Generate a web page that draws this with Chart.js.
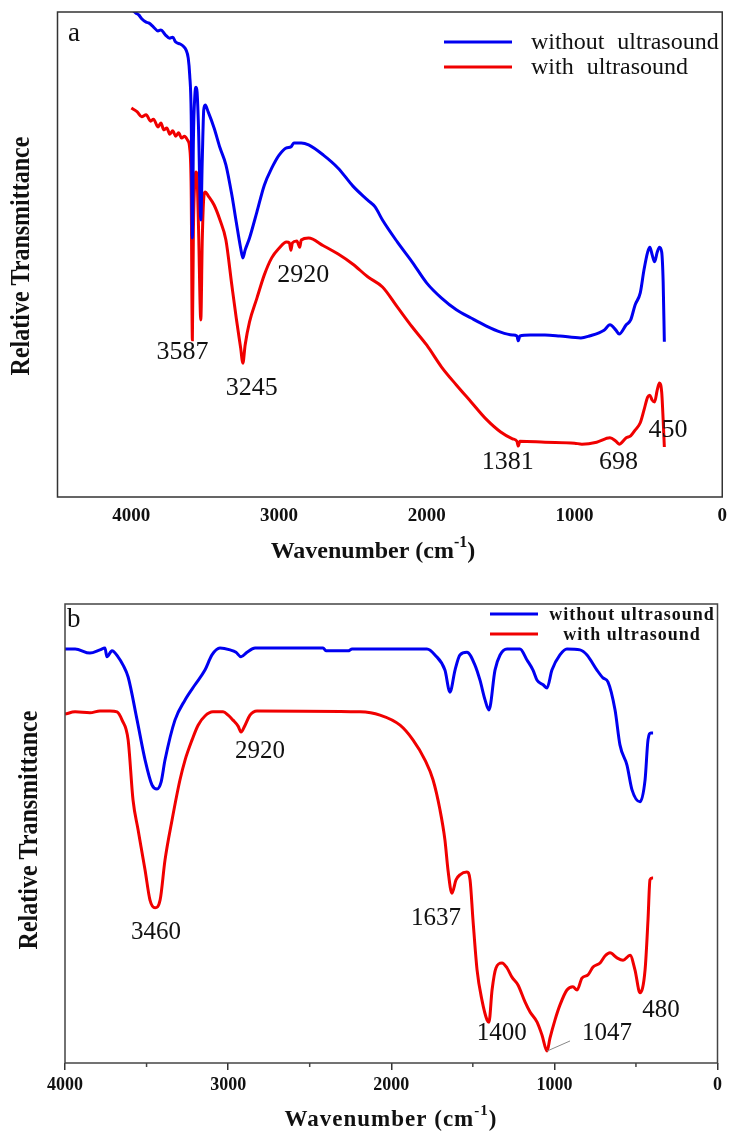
<!DOCTYPE html>
<html>
<head>
<meta charset="utf-8">
<script src="https://cdn.jsdelivr.net/npm/chart.js@4/dist/chart.umd.min.js"></script>
<style>
  html, body { margin: 0; padding: 0; background: #fff; }
  #wrap { position: relative; width: 735px; height: 1133px; }
  #chartA { position: absolute; left: 0; top: 0; }
  #chartB { position: absolute; left: 0; top: 580px; }
</style>
</head>
<body>
<div id="wrap">
  <canvas id="chartA" width="735" height="580"></canvas>
  <canvas id="chartB" width="735" height="553"></canvas>
</div>
<script>
// FTIR spectra, panel a (top) and panel b (bottom)

// --- panel a data (wavenumber, relative transmittance 0..100)
const aWithoutX = [4000,3970,3950,3930,3900,3880,3850,3820,3800,3770,3740,3720,3700,3670,3650,3630,3615,3605,3595,3587,
  3580,3570,3562,3555,3545,3530,3520,3510,3500,3480,
  3440,3400,3360,3320,3290,3260,3245,3230,3200,3150,
  3100,3050,3000,2950,2920,2900,2850,2800,2700,2600,
  2500,2400,2350,2300,2200,2100,2000,1900,1800,1700,
  1600,1500,1420,1390,1381,1370,1300,1200,1100,957,
  900,800,760,720,698,650,620,590,555,530,
  505,490,475,458,440,425,410,400,392];
const aWithoutY = [100.6,99.8,99.4,98.6,97.9,97.7,96.9,96.1,96.3,95.3,94.6,94.8,93.8,93.4,93.0,92.2,90.5,87.0,78.8,53.4,
  73.6,82.9,84.5,83.5,75.7,57.1,69.5,79.8,80.8,79.4,
  76.1,72.0,68.5,62.3,56.7,51.3,49.3,50.9,53.4,58.8,
  64.3,67.8,70.5,72.0,72.2,73.0,73.0,72.6,70.5,67.8,
  64.1,61.2,59.8,57.1,52.6,48.5,44.1,41.0,38.6,36.9,
  35.3,34.0,33.4,33.2,32.2,33.2,33.4,33.4,33.2,32.8,
  33.2,34.4,35.5,34.4,33.6,35.5,36.5,39.6,42.1,46.8,
  50.5,51.5,50.0,48.5,50.5,51.5,50.5,44.3,32.0];

const aWithX = [4000,3960,3930,3900,3870,3850,3820,3800,3780,3760,3740,3720,3700,3680,3660,3640,3620,3605,3595,3587,
  3580,3570,3562,3555,3545,3530,3520,3510,3500,3480,
  3440,3400,3360,3320,3290,3260,3245,3230,3200,3150,
  3100,3050,3000,2950,2930,2920,2910,2880,2860,2850,
  2800,2700,2600,2500,2400,2300,2200,2100,2000,1900,
  1800,1700,1600,1500,1420,1390,1381,1370,1200,1000,
  950,850,760,720,698,650,620,590,555,530,
  505,490,475,458,440,425,410,400,392];
const aWithY = [80.2,79.4,78.4,78.8,77.5,77.9,76.3,77.1,75.7,76.1,74.8,75.5,74.4,75.1,74.0,74.4,73.6,71.9,63.3,32.4,
  55.1,65.4,67.0,65.8,55.1,36.5,53.0,61.6,62.9,62.1,
  60.2,57.1,53.0,43.7,36.9,30.7,27.6,31.3,36.1,41.0,
  45.8,49.3,51.3,52.6,52.4,50.9,52.4,52.8,51.5,53.0,
  53.4,51.8,50.1,48.0,45.4,43.3,39.2,35.1,31.3,26.8,
  23.1,19.6,16.1,13.4,12.0,11.5,10.5,11.5,11.3,11.1,
  10.9,11.3,12.2,11.5,10.9,12.2,12.6,13.8,15.3,17.9,
  20.6,21.0,20.0,19.6,22.1,23.5,21.6,15.9,10.3];

// --- panel b data
const bWithoutX = [4000,3938,3847,3786,3755,3743,3712,3675,3644,3613,
  3558,3509,3467,3436,3411,3387,3326,3264,3203,3142,
  3099,3050,2988,2952,2921,2884,2835,2418,2400,2265,
  2240,1781,1732,1671,1640,1609,1579,1536,1487,1456,
  1425,1401,1364,1333,1290,1211,1168,1131,1106,1069,
  1045,1015,966,923,843,800,739,702,671,628,
  598,555,524,475,444,426,408,395];
const bWithoutY = [90.2,90.2,89.3,90.0,90.4,88.5,89.8,88.5,86.7,84.1,
  74.7,66.0,60.6,59.7,61.2,66.0,74.7,79.1,82.4,85.6,
  88.9,90.4,90.0,89.5,88.5,89.5,90.4,90.4,89.8,89.8,
  90.2,90.2,88.9,85.6,80.8,85.6,88.9,89.5,86.7,83.4,
  79.1,76.9,85.6,88.9,90.2,90.2,87.8,85.6,83.4,82.4,
  81.7,85.6,88.9,90.2,90.0,88.9,85.6,83.9,83.0,76.9,
  69.3,64.9,59.5,56.9,61.7,70.4,71.9,71.9];

const bWithX = [4000,3938,3847,3786,3724,3681,3650,3613,3583,3552,
  3509,3479,3448,3417,3387,3344,3295,3264,3221,3184,
  3142,3093,3031,3000,2970,2939,2921,2896,2866,2823,
  2192,2069,1946,1867,1793,1744,1701,1671,1652,1628,
  1603,1579,1536,1517,1499,1474,1444,1413,1401,1382,
  1358,1321,1290,1260,1223,1180,1149,1106,1076,1045,
  1027,996,966,923,886,861,831,794,763,720,
  690,659,616,579,536,506,475,444,426,414,
  401,395];
const bWithY = [76.0,76.5,76.3,76.7,76.7,76.5,74.7,70.4,57.3,50.8,
  42.0,35.5,33.8,35.5,44.2,52.9,61.7,66.0,70.4,73.6,
  75.6,76.5,76.5,75.8,74.7,73.4,72.1,73.6,75.8,76.7,
  76.5,75.8,73.6,70.4,66.0,61.7,55.1,48.6,42.0,37.0,
  39.9,41.0,41.6,39.9,31.2,20.3,13.7,9.4,8.9,15.9,
  20.7,21.8,20.7,18.7,17.0,13.3,11.1,8.9,6.1,2.6,
  5.4,9.4,12.6,15.9,16.6,15.9,18.5,19.2,20.9,21.8,
  23.3,24.0,22.9,22.4,23.5,20.3,15.3,20.3,31.2,39.9,
  40.3,40.3];

// axis ticks and legend names
const xTicks = [4000, 3000, 2000, 1000, 0];
const minorTicksB = [3500, 2500, 1500, 500];
const seriesNames = ['without ultrasound', 'with ultrasound'];

// peak labels (text + where they sit, in data units)
const peakTextA = ['3587', '3245', '2920', '1381', '698', '450'];
const peakXA = [3654, 3185, 2837, 1452, 703, 368];
const peakYA = [29.9, 22.5, 45.8, 7.2, 7.2, 13.8];
const peakTextB = ['3460', '2920', '1637', '1400', '1047', '480'];
const peakXB = [3442, 2804, 1726, 1322, 677, 346];
const peakYB = [28.5, 67.8, 31.6, 6.5, 6.5, 11.5];

const serif = '"Liberation Serif", "Times New Roman", serif';
const BLUE = '#0000f0';
const RED = '#f00000';

function toPoints(xs, ys) {
  return xs.map((x, i) => ({x: x, y: ys[i]}));
}

function drawXTitle(ctx, cx, cy, font, supFont, spacing) {
  ctx.letterSpacing = spacing;
  ctx.font = font;
  let t1 = 'Wavenumber (cm', t3 = ')';
  let w1 = ctx.measureText(t1).width, w3 = ctx.measureText(t3).width;
  ctx.font = supFont;
  let w2 = ctx.measureText('-1').width;
  let x = cx - (w1 + w2 + w3) / 2;
  ctx.textAlign = 'left';
  ctx.textBaseline = 'middle';
  ctx.font = font;
  ctx.fillText(t1, x, cy);
  ctx.font = supFont;
  ctx.fillText('-1', x + w1, cy - 9);
  ctx.font = font;
  ctx.fillText(t3, x + w1 + w2, cy);
  ctx.letterSpacing = '0px';
}

// frame, labels, legend, titles
const decoPlugin = {
  id: 'deco',
  afterDraw(chart, args, o) {
    const ctx = chart.ctx, ca = chart.chartArea;
    const xs = chart.scales.x, ys = chart.scales.y;
    ctx.save();

    ctx.strokeStyle = o.frameColor;
    ctx.lineWidth = o.frameWidth;
    ctx.strokeRect(ca.left, ca.top, ca.right - ca.left, ca.bottom - ca.top);

    o.minorTicks.forEach(v => {
      let px = xs.getPixelForValue(v);
      ctx.beginPath();
      ctx.moveTo(px, ca.bottom);
      ctx.lineTo(px, ca.bottom + o.minorLen);
      ctx.stroke();
    });

    ctx.fillStyle = '#111';
    ctx.font = o.peakFont;
    ctx.textAlign = 'center';
    ctx.textBaseline = 'middle';
    o.peakText.forEach((t, i) => {
      ctx.fillText(t, xs.getPixelForValue(o.peakX[i]), ys.getPixelForValue(o.peakY[i]));
    });

    if (o.leader) {
      ctx.strokeStyle = '#888';
      ctx.lineWidth = 1;
      ctx.beginPath();
      ctx.moveTo(xs.getPixelForValue(o.leader[0]), ys.getPixelForValue(o.leader[1]));
      ctx.lineTo(xs.getPixelForValue(o.leader[2]), ys.getPixelForValue(o.leader[3]));
      ctx.stroke();
    }

    ctx.font = o.letterFont;
    ctx.textAlign = 'left';
    ctx.fillText(o.letter, o.letterPos[0], o.letterPos[1]);

    // legend
    let lg = o.legend;
    chart.data.datasets.forEach((ds, i) => {
      let y = lg.y[i];
      ctx.strokeStyle = ds.borderColor;
      ctx.lineWidth = 3;
      ctx.beginPath();
      ctx.moveTo(lg.x1, y);
      ctx.lineTo(lg.x2, y);
      ctx.stroke();
      ctx.fillStyle = '#111';
      ctx.font = lg.font;
      ctx.letterSpacing = lg.letterSpacing;
      ctx.wordSpacing = lg.wordSpacing;
      ctx.textAlign = lg.align;
      ctx.fillText(ds.label, lg.textX, y + 1);
      ctx.letterSpacing = '0px';
      ctx.wordSpacing = '0px';
    });

    // y title
    ctx.save();
    ctx.translate(o.yTitle[0], o.yTitle[1]);
    ctx.rotate(-Math.PI / 2);
    ctx.scale(1, 1.18);
    ctx.font = o.yTitleFont;
    ctx.textAlign = 'center';
    ctx.textBaseline = 'middle';
    ctx.fillText('Relative Transmittance', 0, 0);
    ctx.restore();

    drawXTitle(ctx, o.xTitle[0], o.xTitle[1], o.xTitleFont, o.supFont, o.xTitleSpacing);
    ctx.restore();
  }
};

function makeChart(id, p) {
  return new Chart(document.getElementById(id), {
    type: 'line',
    data: {
      datasets: [
        {label: seriesNames[0], data: toPoints(p.x1, p.y1), borderColor: BLUE, borderWidth: 3,
         pointRadius: 0, cubicInterpolationMode: 'monotone', fill: false},
        {label: seriesNames[1], data: toPoints(p.x2, p.y2), borderColor: RED, borderWidth: 3,
         pointRadius: 0, cubicInterpolationMode: 'monotone', fill: false}
      ]
    },
    options: {
      responsive: false,
      animation: false,
      devicePixelRatio: 1,
      layout: {padding: p.padding},
      plugins: {
        legend: {display: false},
        tooltip: {enabled: false},
        deco: p.deco
      },
      scales: {
        x: {
          type: 'linear', min: 0, max: p.xmax, reverse: true,
          afterBuildTicks: s => { s.ticks = xTicks.map(v => ({value: v})); },
          afterFit: s => { s.height = p.xAxisH; },
          grid: {display: p.ticksOut, drawOnChartArea: false, drawTicks: p.ticksOut,
                 tickLength: 7, color: '#333', lineWidth: 1.5},
          border: {display: false},
          ticks: {callback: v => String(v), color: '#111', padding: p.tickPad,
                  maxRotation: 0, autoSkip: false,
                  font: {family: serif, size: p.tickSize, weight: 'bold'}}
        },
        y: {
          min: 0, max: 100,
          afterFit: s => { s.width = p.yAxisW; },
          grid: {display: false},
          border: {display: false},
          ticks: {display: false}
        }
      }
    },
    plugins: [decoPlugin]
  });
}

makeChart('chartA', {
  x1: aWithoutX, y1: aWithoutY, x2: aWithX, y2: aWithY,
  xmax: 4500, padding: {top: 12, right: 5, left: 0, bottom: 0},
  xAxisH: 83, yAxisW: 57.5, ticksOut: false, tickPad: 8, tickSize: 19,
  deco: {
    frameColor: '#333', frameWidth: 1.5, minorTicks: [], minorLen: 0,
    peakText: peakTextA, peakX: peakXA, peakY: peakYA, peakFont: '26px ' + serif,
    leader: null,
    letter: 'a', letterPos: [68, 34], letterFont: '27px ' + serif,
    legend: {x1: 444, x2: 512, y: [42, 67], textX: 531, align: 'left',
             font: '24px ' + serif, letterSpacing: '0px', wordSpacing: '7px'},
    yTitle: [22, 256], yTitleFont: 'bold 24px ' + serif,
    xTitle: [373, 552], xTitleFont: 'bold 24px ' + serif, supFont: 'bold 16px ' + serif,
    xTitleSpacing: '0px'
  }
});

makeChart('chartB', {
  x1: bWithoutX, y1: bWithoutY, x2: bWithX, y2: bWithY,
  xmax: 4000, padding: {top: 24, right: 17.5, left: 0, bottom: 0},
  xAxisH: 70, yAxisW: 65, ticksOut: true, tickPad: 5, tickSize: 18,
  deco: {
    frameColor: '#444', frameWidth: 1.5, minorTicks: minorTicksB, minorLen: 4,
    peakText: peakTextB, peakX: peakXB, peakY: peakYB, peakFont: '25px ' + serif,
    leader: [1045, 2.6, 904, 4.8],
    letter: 'b', letterPos: [67, 40], letterFont: '27px ' + serif,
    legend: {x1: 490, x2: 538, y: [34, 54], textX: 632, align: 'center',
             font: 'bold 18px ' + serif, letterSpacing: '1px', wordSpacing: '0px'},
    yTitle: [30, 250], yTitleFont: 'bold 24px ' + serif,
    xTitle: [391, 540], xTitleFont: 'bold 23px ' + serif, supFont: 'bold 15px ' + serif,
    xTitleSpacing: '1px'
  }
});
</script>
</body>
</html>
